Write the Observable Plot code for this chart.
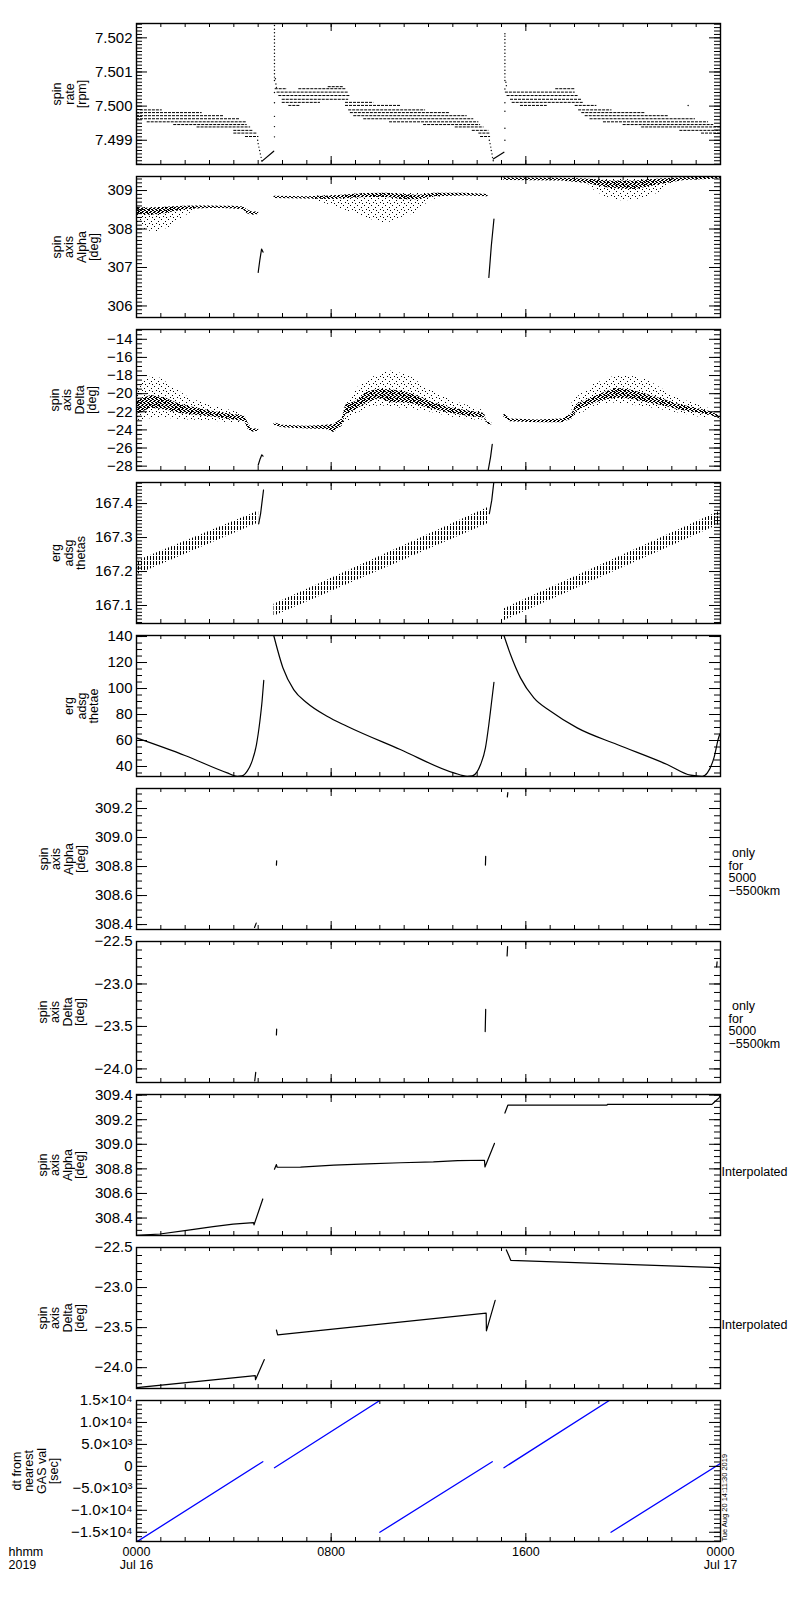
<!DOCTYPE html>
<html>
<head>
<meta charset="utf-8">
<script src="https://cdn.jsdelivr.net/npm/d3@7"></script>
<script src="https://cdn.jsdelivr.net/npm/@observablehq/plot@0.6"></script>
<style>
  body { margin: 0; background: #fff; font-family: "Liberation Sans", Arial, sans-serif; }
  #chart { padding-top: 17px; width: 800px; }
  #chart svg { display: block; }
</style>
</head>
<body>
<!-- fill patterns for the scatter clouds -->
<svg width="0" height="0" style="position:absolute">
  <defs>
    <pattern id="sparse" width="7" height="7" patternUnits="userSpaceOnUse">
      <rect x="0" y="0" width="1" height="1"/>
      <rect x="4" y="2" width="1" height="1"/>
      <rect x="2" y="4" width="1" height="1"/>
      <rect x="5" y="5" width="1" height="1"/>
    </pattern>
    <pattern id="dense" width="4" height="4" patternUnits="userSpaceOnUse">
      <rect x="0" y="0" width="2" height="1"/>
      <rect x="2" y="1" width="2" height="1"/>
      <rect x="1" y="2" width="2" height="1"/>
      <rect x="3" y="3" width="1" height="1"/>
      <rect x="0" y="3" width="1" height="1"/>
    </pattern>
    <pattern id="hatch" width="3" height="5" patternUnits="userSpaceOnUse">
      <rect x="0" y="0" width="1" height="4"/>
    </pattern>
  </defs>
</svg>
<div id="chart"></div>
<script>
// x : heures depuis 2019-07-16 00:00
const xTicks = [0, 8, 16, 24];
const xTickLabels = ["0000\nJul 16", "0800", "1600", "0000\nJul 17"];
const stamp = "Tue Aug 20 14:11:30 2019";

// 1 - spin rate : lignes quantifiees [valeur, debut, fin]
const spinRows = [
  [7.49989, 0.16, 1.06], [7.49981, 0.0, 2.70], [7.49972, 0.0, 3.59], [7.49963, 0.0, 4.27],
  [7.49954, 0.44, 4.55], [7.49946, 1.53, 4.55], [7.49939, 2.49, 4.69], [7.49929, 4.00, 4.82],
  [7.49921, 4.00, 4.96], [7.49911, 4.48, 5.03],
  [7.50057, 7.88, 8.50], [7.50051, 5.70, 6.20], [7.50051, 6.67, 8.64], [7.50041, 5.78, 8.72],
  [7.50031, 5.85, 8.79], [7.50020, 5.99, 8.72], [7.50011, 5.99, 7.56], [7.50011, 8.59, 9.75],
  [7.50002, 6.26, 6.74], [7.50002, 8.59, 10.85], [7.49989, 8.72, 11.88], [7.49981, 8.79, 12.90],
  [7.49972, 8.93, 13.59], [7.49963, 9.34, 13.86], [7.49954, 10.40, 14.07], [7.49946, 11.80, 14.14],
  [7.49939, 13.10, 14.28], [7.49929, 13.80, 14.48], [7.49921, 14.07, 14.52], [7.49911, 14.14, 14.55],
  [7.50051, 17.23, 18.03], [7.50041, 15.16, 18.03], [7.50031, 15.23, 18.17], [7.50020, 15.37, 18.30],
  [7.50011, 15.44, 18.37], [7.50002, 15.78, 16.88], [7.50002, 18.03, 18.92], [7.49989, 18.17, 19.54],
  [7.49981, 18.30, 20.91], [7.49972, 18.44, 21.87], [7.49963, 18.64, 22.97], [7.49954, 19.19, 23.51],
  [7.49946, 20.00, 23.72], [7.49939, 20.76, 24.00], [7.49929, 22.33, 24.00], [7.49921, 23.22, 24.00]
];
const spinDots = [
  [4.98, 7.49900], [5.00, 7.49890], [5.03, 7.49880], [5.06, 7.49870], [5.09, 7.49860], [5.12, 7.49850], [5.15, 7.49840],
  [5.67, 7.49910], [5.67, 7.49940], [5.67, 7.49970], [5.67, 7.50010], [5.67, 7.50040], [5.67, 7.50075],
  [5.67, 7.50085], [5.67, 7.50095], [5.67, 7.50105], [5.67, 7.50115], [5.67, 7.50125], [5.67, 7.50135],
  [5.67, 7.50145], [5.67, 7.50155], [5.67, 7.50165], [5.67, 7.50175], [5.67, 7.50185], [5.67, 7.50195],
  [5.67, 7.50205], [5.67, 7.50215], [5.67, 7.50225], [5.67, 7.50236],
  [5.71, 7.50080], [5.73, 7.50065], [5.75, 7.50055],
  [14.50, 7.49900], [14.53, 7.49890], [14.56, 7.49880], [14.58, 7.49870], [14.61, 7.49860], [14.63, 7.49850], [14.66, 7.49840],
  [15.14, 7.49900], [15.14, 7.49935], [15.14, 7.49985], [15.14, 7.50010], [15.14, 7.50050], [15.14, 7.50075],
  [15.14, 7.50085], [15.14, 7.50095], [15.14, 7.50105], [15.14, 7.50115], [15.14, 7.50125], [15.14, 7.50135],
  [15.14, 7.50145], [15.14, 7.50155], [15.14, 7.50165], [15.14, 7.50175], [15.14, 7.50185], [15.14, 7.50195],
  [15.14, 7.50205], [15.14, 7.50212],
  [15.18, 7.50070], [15.20, 7.50060], [22.67, 7.50002]
];
const spinRise = [["a", 5.16, 7.49839], ["a", 5.64, 7.49868], ["b", 14.66, 7.49845], ["b", 15.10, 7.49865]];

// 2 - spin axis alpha : [segment, t, bas, haut]
const alphaCore = [
  ["A", 0, 308.40, 308.56], ["A", 0.5, 308.36, 308.54], ["A", 1.0, 308.38, 308.56], ["A", 1.5, 308.44, 308.58],
  ["A", 2.0, 308.50, 308.59], ["A", 2.5, 308.52, 308.60], ["A", 3.0, 308.53, 308.60], ["A", 3.5, 308.53, 308.59],
  ["A", 4.0, 308.52, 308.59], ["A", 4.4, 308.50, 308.57], ["A", 4.55, 308.40, 308.50], ["A", 4.75, 308.36, 308.44],
  ["A", 5.02, 308.38, 308.44],
  ["B", 5.65, 308.79, 308.85], ["B", 7.0, 308.78, 308.84], ["B", 8.0, 308.77, 308.86], ["B", 8.7, 308.79, 308.89],
  ["B", 9.5, 308.82, 308.92], ["B", 10.3, 308.82, 308.93], ["B", 11.0, 308.76, 308.90], ["B", 11.6, 308.76, 308.88],
  ["B", 12.2, 308.84, 308.93], ["B", 13.5, 308.86, 308.93], ["B", 14.45, 308.84, 308.90],
  ["C", 15.1, 309.26, 309.33], ["C", 17.5, 309.25, 309.32], ["C", 18.5, 309.18, 309.30], ["C", 19.5, 309.05, 309.25],
  ["C", 20.5, 309.03, 309.25], ["C", 21.5, 309.15, 309.30], ["C", 22.5, 309.26, 309.33], ["C", 24, 309.30, 309.35]
];
const alphaSpread = [
  ["A", 0, 308.20, 308.56], ["A", 0.4, 307.95, 308.56], ["A", 0.9, 307.93, 308.56], ["A", 1.4, 308.05, 308.58],
  ["A", 1.9, 308.30, 308.59], ["A", 2.4, 308.48, 308.60],
  ["B", 7.3, 308.76, 308.86], ["B", 8.3, 308.55, 308.88], ["B", 9.2, 308.35, 308.92], ["B", 10.2, 308.12, 308.93],
  ["B", 10.8, 308.28, 308.93], ["B", 11.4, 308.40, 308.92], ["B", 12.0, 308.70, 308.92], ["B", 12.5, 308.84, 308.93],
  ["C", 18.6, 309.10, 309.30], ["C", 19.2, 308.85, 309.30], ["C", 20.0, 308.72, 309.30], ["C", 20.7, 308.78, 309.30],
  ["C", 21.4, 308.92, 309.30], ["C", 22.0, 309.15, 309.32]
];
const alphaJump = [
  ["A", 5.0, 306.87], ["A", 5.07, 307.2], ["A", 5.14, 307.48], ["A", 5.2, 307.4],
  ["B", 14.48, 306.74], ["B", 14.58, 307.55], ["B", 14.69, 308.26]
];

// 3 - spin axis delta
const deltaCore = [
  ["A", 0, -22.3, -20.8], ["A", 0.6, -21.6, -20.2], ["A", 1.2, -21.8, -20.5], ["A", 1.8, -22.2, -21.2],
  ["A", 2.5, -22.4, -21.6], ["A", 3.2, -22.6, -22.0], ["A", 4.0, -22.9, -22.3], ["A", 4.45, -23.1, -22.5],
  ["A", 4.6, -24.0, -23.3], ["A", 4.75, -24.25, -23.9], ["A", 5.02, -24.15, -23.9],
  ["B", 5.65, -23.5, -23.2], ["B", 6.0, -23.75, -23.5], ["B", 7.0, -23.9, -23.6], ["B", 7.8, -23.95, -23.5],
  ["B", 8.1, -24.3, -23.4], ["B", 8.45, -23.6, -22.8], ["B", 8.6, -22.3, -21.2], ["B", 9.0, -21.8, -20.9],
  ["B", 9.5, -21.0, -19.8], ["B", 10.0, -20.6, -19.5], ["B", 10.5, -21.0, -19.6], ["B", 11.0, -21.0, -19.8],
  ["B", 11.5, -21.2, -20.2], ["B", 12.0, -21.6, -20.8], ["B", 12.8, -22.1, -21.5], ["B", 13.6, -22.5, -21.9],
  ["B", 14.3, -22.7, -22.2], ["B", 14.4, -23.4, -23.1], ["B", 14.6, -23.45, -23.2],
  ["C", 15.1, -22.6, -22.2], ["C", 15.35, -23.1, -22.8], ["C", 16.5, -23.2, -22.9], ["C", 17.5, -23.2, -22.8],
  ["C", 17.9, -22.8, -22.2], ["C", 18.1, -21.9, -21.2], ["C", 18.6, -21.3, -20.6], ["C", 19.1, -20.8, -20.0],
  ["C", 19.7, -20.5, -19.4], ["C", 20.3, -20.6, -19.6], ["C", 21.0, -21.0, -20.1], ["C", 21.6, -21.3, -20.6],
  ["C", 22.3, -21.8, -21.2], ["C", 23.0, -22.1, -21.6], ["C", 23.6, -22.4, -22.0], ["C", 24.0, -22.8, -22.5]
];
const deltaSpread = [
  ["A", 0, -23.0, -19.5], ["A", 0.5, -22.8, -18.2], ["A", 1.0, -22.6, -18.3], ["A", 1.5, -22.8, -19.3],
  ["A", 2.2, -22.9, -20.5], ["A", 3.0, -23.0, -21.3], ["A", 3.8, -23.2, -21.8], ["A", 4.4, -23.3, -22.3],
  ["B", 8.5, -23.8, -21.8], ["B", 9.0, -22.3, -19.5], ["B", 9.5, -21.6, -18.5], ["B", 10.0, -21.3, -17.8],
  ["B", 10.5, -21.5, -17.5], ["B", 11.2, -21.7, -18.0], ["B", 12.0, -22.0, -19.5], ["B", 13.0, -22.6, -20.8],
  ["B", 14.2, -23.0, -21.8],
  ["C", 17.9, -22.8, -20.8], ["C", 18.8, -21.4, -19.0], ["C", 19.5, -21.0, -18.2], ["C", 20.2, -21.2, -18.0],
  ["C", 21.0, -21.5, -18.5], ["C", 21.8, -21.9, -19.8], ["C", 22.6, -22.3, -20.8], ["C", 23.5, -22.8, -21.6]
];
const deltaJump = [
  ["A", 5.0, -27.9], ["A", 5.08, -27.2], ["A", 5.15, -26.75], ["A", 5.2, -26.9],
  ["B", 14.45, -28.5], ["B", 14.55, -27.0], ["B", 14.62, -25.6]
];

// 4 - erg adsg thetas
const thetasBand = [
  ["A", 0, 167.19, 167.23], ["A", 5.02, 167.343, 167.378],
  ["B", 5.65, 167.068, 167.104], ["B", 14.5, 167.343, 167.39],
  ["C", 15.1, 167.055, 167.09], ["C", 24, 167.34, 167.378]
];
const thetasJump = [
  ["A", 5.02, 167.34], ["A", 5.1, 167.37], ["A", 5.15, 167.40], ["A", 5.22, 167.44],
  ["B", 14.5, 167.37], ["B", 14.6, 167.41], ["B", 14.68, 167.46]
];

// 5 - erg adsg thetae
const thetae = [
  ["A", 0, 62.0], ["A", 1.99, 48.5], ["A", 3.73, 35.1], ["A", 4.14, 32.5], ["A", 4.34, 32.8], ["A", 4.55, 36.4],
  ["A", 4.75, 44.1], ["A", 4.93, 56.9], ["A", 5.07, 74.8], ["A", 5.16, 90.2], ["A", 5.23, 106.2],
  ["B", 5.64, 140.8], ["B", 6.02, 115.8], ["B", 6.46, 99.2], ["B", 7.01, 88.9], ["B", 7.83, 78.7], ["B", 8.65, 71.0],
  ["B", 10.84, 53.1], ["B", 13.04, 35.1], ["B", 13.59, 32.5], ["B", 13.8, 32.8], ["B", 14.14, 41.5],
  ["B", 14.34, 54.3], ["B", 14.48, 72.3], ["B", 14.58, 87.7], ["B", 14.69, 104.8],
  ["C", 15.1, 140.8], ["C", 15.37, 126.2], ["C", 15.78, 108.2], ["C", 16.33, 92.8], ["C", 17.02, 82.5],
  ["C", 18.11, 69.7], ["C", 19.75, 56.9], ["C", 21.81, 41.5], ["C", 22.77, 33.3], ["C", 23.25, 32.5],
  ["C", 23.46, 35.1], ["C", 23.73, 46.6], ["C", 23.94, 63.3], ["C", 24, 65.8]
];

// 6, 7 - only for 5000-5500km
const alphaOnly = [
  ["a", 4.85, 308.38], ["a", 4.92, 308.41], ["b", 5.75, 308.81], ["b", 5.76, 308.84],
  ["c", 14.34, 308.81], ["c", 14.35, 308.87], ["d", 15.24, 309.28], ["d", 15.26, 309.31]
];
const deltaOnly = [
  ["a", 4.86, -24.14], ["a", 4.90, -24.04], ["b", 5.75, -23.60], ["b", 5.76, -23.53],
  ["c", 14.33, -23.56], ["c", 14.35, -23.30], ["d", 15.23, -22.67], ["d", 15.25, -22.56],
  ["e", 23.84, -22.80], ["e", 23.86, -22.74]
];

// 8, 9 - interpolated
const alphaInterp = [
  ["A", 0, 308.26], ["A", 0.96, 308.27], ["A", 2.06, 308.30], ["A", 3.15, 308.33], ["A", 3.97, 308.35],
  ["A", 4.81, 308.363], ["A", 4.83, 308.345], ["A", 5.19, 308.555],
  ["B", 5.67, 308.797], ["B", 5.75, 308.835], ["B", 5.78, 308.813], ["B", 6.74, 308.815], ["B", 8.11, 308.83],
  ["B", 9.48, 308.84], ["B", 10.85, 308.85], ["B", 12.2, 308.857], ["B", 13.2, 308.867], ["B", 14.3, 308.87],
  ["B", 14.32, 308.816], ["B", 14.71, 309.007],
  ["C", 15.14, 309.254], ["C", 15.26, 309.318], ["C", 19.34, 309.318], ["C", 19.35, 309.325],
  ["C", 23.65, 309.325], ["C", 23.73, 309.34], ["C", 23.94, 309.378], ["C", 24, 309.4]
];
const deltaInterp = [
  ["A", 0, -24.25], ["A", 4.88, -24.10], ["A", 4.89, -24.15], ["A", 5.25, -23.90],
  ["B", 5.75, -23.53], ["B", 5.8, -23.59], ["B", 14.37, -23.32], ["B", 14.38, -23.54], ["B", 14.74, -23.16],
  ["C", 15.2, -22.53], ["C", 15.3, -22.60], ["C", 15.38, -22.66], ["C", 23.95, -22.75], ["C", 23.97, -22.78], ["C", 24, -22.73]
];

// 10 - dt from nearest GAS val [sec]
const dtSeries = [
  ["1", 0, -17200], ["1", 5.19, 1070],
  ["2", 5.67, -300], ["2", 10.0, 15000],
  ["3", 10.0, -15000], ["3", 14.62, 1070],
  ["4", 15.1, -300], ["4", 19.43, 15000],
  ["5", 19.5, -15000], ["5", 24, 680]
];
const dtTicks = [-15000, -10000, -5000, 0, 5000, 10000, 15000];
const dtTickLabels = ["−1.5×10⁴", "−1.0×10⁴", "−5.0×10³", "0", "5.0×10³", "1.0×10⁴", "1.5×10⁴"];

const W = 800, ML = 136, MR = 80, FW = W - ML - MR, PH = 141;

function segLine(data, opts = {}) {
  return Plot.line(data, {x: d => d[1], y: d => d[2], z: d => d[0], stroke: "black", strokeWidth: 1.2, clip: true, ...opts});
}
function band(data, fill) {
  return Plot.areaY(data, {x: d => d[1], y1: d => d[2], y2: d => d[3], z: d => d[0], fill, clip: true});
}

const titleAlpha = "spin\naxis\nAlpha\n[deg]";
const titleDelta = "spin\naxis\nDelta\n[deg]";
const noteOnly = "\u00a0only\nfor\n5000\n−5500km";

const panels = [
  {y: [7.49829, 7.50242], ticks: [7.499, 7.500, 7.501, 7.502], fmt: d3.format(".3f"), minor: 0.0001,
   title: "spin\nrate\n[rpm]", tx: 69,
   marks: [
     Plot.ruleY(spinRows, {y: d => d[0], x1: d => d[1], x2: d => d[2], stroke: "black", strokeWidth: 1, strokeDasharray: "3,1", clip: true}),
     Plot.dot(spinDots, {x: d => d[0], y: d => d[1], r: 0.7, fill: "black", clip: true}),
     segLine(spinRise)
   ]},
  {y: [305.70, 309.365], ticks: [306, 307, 308, 309], fmt: d3.format("d"), minor: 0.1,
   title: titleAlpha, tx: 75,
   marks: [band(alphaSpread, "url(#sparse)"), band(alphaCore, "url(#dense)"), segLine(alphaJump)]},
  {y: [-28.48, -12.92], ticks: [-28, -26, -24, -22, -20, -18, -16, -14], fmt: d3.format("d"), minor: 0.5,
   title: titleDelta, tx: 73,
   marks: [band(deltaSpread, "url(#sparse)"), band(deltaCore, "url(#dense)"), segLine(deltaJump)]},
  {y: [167.047, 167.462], ticks: [167.1, 167.2, 167.3, 167.4], fmt: d3.format(".1f"), minor: 0.01,
   title: "erg\nadsg\nthetas", tx: 68,
   marks: [band(thetasBand, "url(#hatch)"), segLine(thetasJump)]},
  {y: [32.3, 140.8], ticks: [40, 60, 80, 100, 120, 140], fmt: d3.format("d"), minor: 5,
   title: "erg\nadsg\nthetae", tx: 81,
   marks: [segLine(thetae, {curve: "monotone-x"})]},
  {y: [308.366, 309.338], ticks: [308.4, 308.6, 308.8, 309.0, 309.2], fmt: d3.format(".1f"), minor: 0.05,
   title: titleAlpha, tx: 62, note: noteOnly, ndx: 8, ndy: 13,
   marks: [segLine(alphaOnly)]},
  {y: [-24.16, -22.5], ticks: [-24.0, -23.5, -23.0, -22.5], fmt: d3.format(".1f"), minor: 0.1,
   title: titleDelta, tx: 61, note: noteOnly, ndx: 8, ndy: 13,
   marks: [segLine(deltaOnly)]},
  {y: [308.258, 309.405], ticks: [308.4, 308.6, 308.8, 309.0, 309.2, 309.4], fmt: d3.format(".1f"), minor: 0.05,
   title: titleAlpha, tx: 61, note: "Interpolated", ndx: 1, ndy: 7,
   marks: [segLine(alphaInterp)]},
  {y: [-24.26, -22.5], ticks: [-24.0, -23.5, -23.0, -22.5], fmt: d3.format(".1f"), minor: 0.1,
   title: titleDelta, tx: 61, note: "Interpolated", ndx: 1, ndy: 7,
   marks: [segLine(deltaInterp)]},
  {y: [-17100, 15000], ticks: dtTicks, fmt: d => dtTickLabels[dtTicks.indexOf(d)], minor: 1000,
   title: "dt from\nnearest\nGAS val\n[sec]", tx: 35, last: true,
   marks: [segLine(dtSeries, {stroke: "#0000ff", strokeWidth: 1.3})]}
];

function drawPanel(p) {
  const mt = 6, mb = p.last ? 46 : 6;
  const [lo, hi] = p.y;
  const yMinor = d3.range(Math.ceil(lo / p.minor - 1e-6), Math.floor(hi / p.minor + 1e-6) + 1)
    .map(k => +(k * p.minor).toPrecision(10));
  const hours = d3.range(0, 25);
  const marks = [
    ...p.marks,
    Plot.tickY(yMinor, {y: d => d, insetRight: FW - 6}),
    Plot.tickY(yMinor, {y: d => d, insetLeft: FW - 6}),
    Plot.tickY(p.ticks, {y: d => d, insetRight: FW - 11}),
    Plot.tickY(p.ticks, {y: d => d, insetLeft: FW - 11}),
    Plot.tickX(hours, {x: d => d, insetBottom: PH - 4}),
    Plot.tickX(hours, {x: d => d, insetTop: PH - 4}),
    Plot.tickX(xTicks, {x: d => d, insetBottom: PH - 8}),
    Plot.tickX(xTicks, {x: d => d, insetTop: PH - 8}),
    Plot.frame({stroke: "black", strokeWidth: 1.4}),
    Plot.axisY({ticks: p.ticks, tickFormat: p.fmt, tickSize: 0, tickPadding: 4, label: null, fontSize: 15}),
    Plot.text([p.title], {text: d => d, frameAnchor: "left", dx: p.tx - ML, rotate: -90,
      textAnchor: "middle", lineAnchor: "middle", lineHeight: 1, fontSize: 12.5})
  ];
  if (p.note) {
    marks.push(Plot.text([p.note], {text: d => d, frameAnchor: "right", dx: p.ndx, dy: p.ndy,
      textAnchor: "start", lineAnchor: "middle", lineHeight: 1, fontSize: 12.5}));
  }
  if (p.last) {
    marks.push(
      Plot.axisX({ticks: xTicks, tickFormat: d => xTickLabels[xTicks.indexOf(d)], tickSize: 0, tickPadding: 6,
        label: null, fontSize: 12.5, lineHeight: 1}),
      Plot.text(["hhmm\n2019"], {text: d => d, frameAnchor: "bottom-left", dx: 8 - ML, dy: 6,
        textAnchor: "start", lineAnchor: "top", fontSize: 12.5, lineHeight: 1}),
      Plot.text([stamp], {text: d => d, frameAnchor: "bottom-right", dx: 4, rotate: -90,
        textAnchor: "start", lineAnchor: "middle", fontSize: 7.5})
    );
  }
  return Plot.plot({
    width: W,
    height: PH + mt + mb,
    marginLeft: ML, marginRight: MR, marginTop: mt, marginBottom: mb,
    x: {domain: [0, 24], axis: null},
    y: {domain: p.y, axis: null},
    style: {fontFamily: "Liberation Sans, Arial, sans-serif", fontSize: "15px", color: "black", background: "white", overflow: "visible"},
    marks
  });
}

const chart = document.getElementById("chart");
for (const p of panels) {
  try {
    chart.appendChild(drawPanel(p));
  } catch (error) {
    console.error("Erreur lors de la création du panneau:", p.title, error);
  }
}
</script>
</body>
</html>
